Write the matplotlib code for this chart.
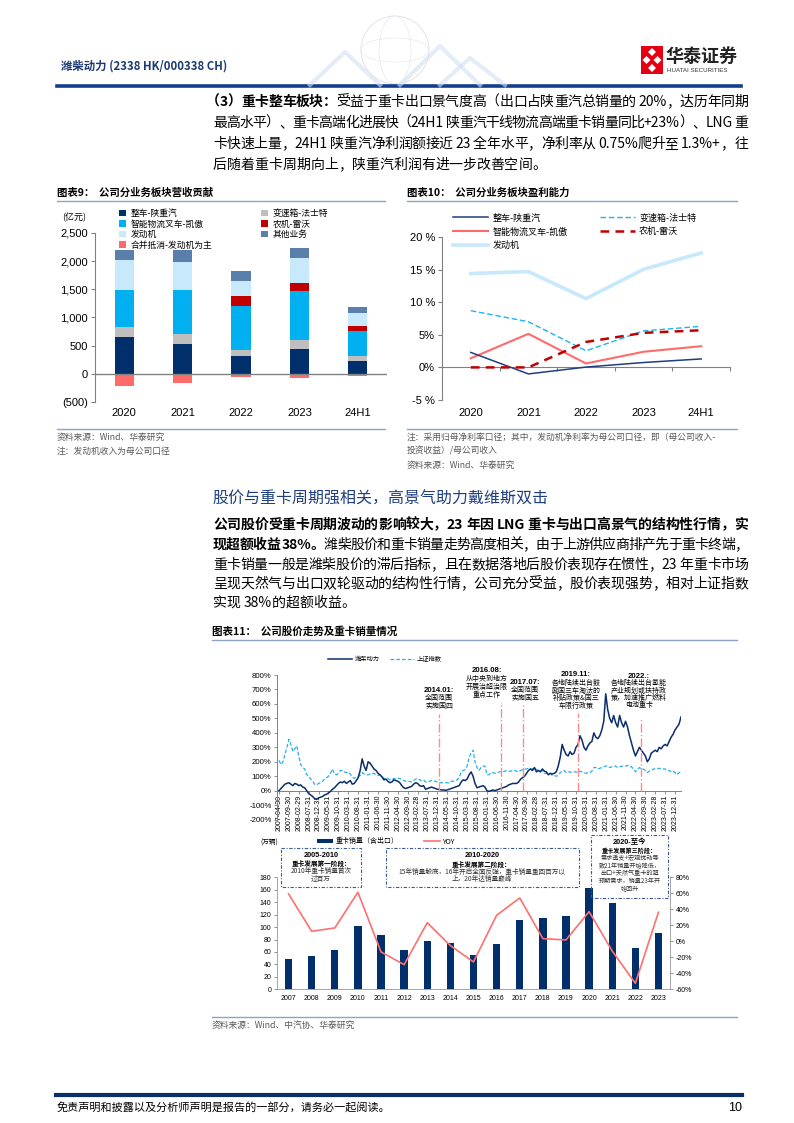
import matplotlib
matplotlib.use('Agg')
import matplotlib.pyplot as plt
from matplotlib.patches import Rectangle, Polygon, Circle, Ellipse
from matplotlib.lines import Line2D
from matplotlib.transforms import Affine2D
import numpy as np
import pandas as pd

W, H = 794, 1123
TXT = ['Noto Sans CJK SC', 'DejaVu Sans']
LAT = ['Liberation Sans', 'Noto Sans CJK SC']
plt.rcParams['font.family'] = TXT
plt.rcParams['axes.unicode_minus'] = False

# ---------------- data ----------------
# 图表9 营收贡献（亿元）
years9 = ['2020', '2021', '2022', '2023', '24H1']
rev_truck = [652, 538, 317, 449, 233]
rev_gearbox = [185, 174, 108, 143, 78]
rev_forklift = [646, 777, 783, 879, 442]
rev_agri = [0, 0, 173, 144, 102]
rev_engine = [544, 502, 264, 442, 221]
rev_other = [173, 209, 173, 168, 108]
rev_elim = [-215, -161, -65, -80, -45]
ticks9 = [-500, 0, 500, 1000, 1500, 2000, 2500]
ticklab9 = ['(500)', '0', '500', '1,000', '1,500', '2,000', '2,500']

# 图表10 净利率（%）
m_truck = [2.3, -1.0, 0.05, 0.75, 1.3]
m_gearbox = [8.7, 7.0, 2.55, 5.6, 6.3]
m_forklift = [1.4, 5.15, 0.6, 2.4, 3.25]
m_agri = [0, 0, 3.9, 5.3, 5.7]
m_engine = [14.4, 14.7, 10.55, 15.05, 17.55]
ticks10 = [-5, 0, 5, 10, 15, 20]
ticklab10 = ['-5 %', '0%', '5%', '10 %', '15 %', '20 %']

# 图表11 上：月度累计涨跌幅（%），2007-04 起
weichai = [
    0, 15, 30, 45, 50, 55, 45, 35, 50,
    45, 35, 40, 25, 20, 0, -20, -30, -40, -55, -60, -50,
    -45, -40, -30, -25, -15, -5, 10, 20, 35, 50, 60, 55,
    65, 50, 60, 70, 45, 50, 70, 90, 140, 220, 170, 140,
    200, 190, 170, 150, 140, 120, 110, 95, 75, 80, 65, 55,
    60, 75, 70, 65, 55, 35, 20, 15, 20, 25, 30, 45,
    55, 50, 35, 30, 35, 10, 15, 20, 25, 20, 15, 10,
    8, 5, 5, 3, 5, 10, 15, 20, 25, 30, 35, 60,
    75, 70, 80, 110, 130, 100, 50, 20, 25, 30, 35, 25,
    0, -5, 0, 5, 0, 5, 10, 15, 20, 25, 30, 40,
    45, 50, 50, 50, 60, 80, 90, 100, 120, 140, 150, 140,
    160, 130, 140, 130, 150, 135, 130, 110, 120, 115, 120, 130,
    170, 230, 320, 280, 250, 240, 270, 250, 260, 300, 320, 380,
    350, 300, 280, 310, 330, 340, 400, 370, 360, 380, 420, 480,
    670, 560, 500, 470, 520, 470, 440, 520, 470, 440, 480, 440,
    380, 330, 280, 240, 270, 300, 280, 260, 240, 200, 220, 260,
    270, 280, 270, 300, 290, 310, 320, 310, 340, 370, 390, 420,
    440, 460, 510,
]
shindex = [
    210, 180, 200, 250, 300, 355, 320, 270, 290,
    310, 240, 180, 160, 150, 110, 100, 80, 65, 45, 40, 50,
    55, 65, 80, 90, 100, 120, 150, 115, 110, 120, 140, 140,
    130, 125, 130, 115, 95, 85, 95, 100, 105, 125, 115, 110,
    110, 115, 120, 120, 110, 105, 110, 100, 85, 85, 85, 75,
    75, 85, 80, 85, 85, 75, 70, 65, 65, 65, 60, 70,
    80, 85, 75, 70, 75, 60, 60, 65, 70, 70, 65, 60,
    55, 55, 55, 55, 55, 55, 65, 65, 70, 75, 90, 130,
    140, 145, 170, 230, 260, 280, 200, 160, 140, 160, 170, 170,
    110, 110, 125, 125, 120, 125, 130, 130, 130, 135, 140, 135,
    135, 140, 140, 135, 130, 140, 145, 150, 150, 155, 150, 150,
    160, 145, 140, 135, 140, 120, 120, 115, 120, 105, 105, 100,
    105, 125, 135, 140, 125, 130, 130, 125, 130, 130, 125, 135,
    130, 125, 120, 125, 125, 135, 160, 160, 150, 155, 160, 165,
    170, 170, 160, 165, 170, 170, 160, 165, 170, 170, 170, 175,
    165, 165, 150, 130, 145, 160, 150, 150, 140, 125, 135, 140,
    150, 150, 150, 155, 150, 150, 150, 140, 140, 130, 135, 125,
    110, 125, 130,
]
start_month = pd.Period('2007-04', freq='M')
events = ['2014-01', '2016-08', '2017-07', '2019-11', '2022-07']
event_top = [530, 610, 590, 540, 500]

# 图表11 下：重卡销量（万辆）与同比
years11 = ['2007', '2008', '2009', '2010', '2011', '2012', '2013', '2014', '2015',
           '2016', '2017', '2018', '2019', '2020', '2021', '2022', '2023']
hdt_sales = [48, 54, 63, 102, 88, 63, 77, 74, 55, 73, 111, 114, 117, 162, 139, 67, 91]
hdt_yoy = [59.2, 12.5, 16.7, 61.3, -13.3, -29.2, 23.3, -5.4, -25.8, 32.5, 54.2, 3.3, 1.7,
           37.1, -12.1, -52.5, 36.3]

# ---------------- helpers ----------------
fig = plt.figure(figsize=(W / 100, H / 100), dpi=100)
R = fig.canvas.get_renderer()
PIX = Affine2D().scale(1 / W, -1 / H).translate(0, 1) + fig.transFigure


def T(x, y, s, **kw):
    kw.setdefault('family', TXT)
    return fig.text(x / W, 1 - y / H, s, **kw)


def axpx(x0, y0, x1, y1):
    return fig.add_axes([x0 / W, 1 - y1 / H, (x1 - x0) / W, (y1 - y0) / H])


def hline(x0, x1, y, color, lw):
    fig.add_artist(Line2D([x0, x1], [y, y], color=color, lw=lw, transform=PIX))


_cache = {}


def twidth(s, size, weight):
    key = (s, size, weight)
    if key not in _cache:
        def w(z):
            t = fig.text(0, 0, z, fontsize=size, fontweight=weight, family=TXT)
            v = t.get_window_extent(renderer=R).width
            t.remove()
            return v
        _cache[key] = w('|' + s + '|') - w('||')
    return _cache[key]


def tokens(s):
    out, buf = [], ''
    for ch in s:
        if ord(ch) < 128 and ch != ' ':
            buf += ch
        else:
            if buf:
                out.append(buf)
                buf = ''
            out.append(ch)
    if buf:
        out.append(buf)
    return out


def para_line(x0, y, segs, size=10, x1=None, color='black'):
    items = []
    for s, wgt in segs:
        for k in tokens(s):
            items.append((k, wgt))
    ws = [twidth(k, size, wgt) for k, wgt in items]
    gap = 0
    if x1 is not None and len(items) > 1:
        gap = (x1 - x0 - sum(ws)) / (len(items) - 1)
    x = x0
    for (k, wgt), w in zip(items, ws):
        if k.strip():
            T(x, y, k, fontsize=size, fontweight=wgt, va='baseline', ha='left', color=color)
        x += w + gap


NAVY = '#0b2d6b'
RULE = '#8da2c4'
GRAY = '#808080'

# ---------------- header ----------------
T(61, 66, '潍柴动力 (2338 HK/000338 CH)', fontsize=8.2, fontweight='bold', color='#1b3a73', va='center')
hline(57, 741, 86, '#123f8c', 2.6)
# watermark globe
fig.add_artist(Circle((395, 50), 34, transform=PIX, fill=False, ec='#e0e4ea', lw=0.7))
fig.add_artist(Ellipse((395, 50), 32, 68, transform=PIX, fill=False, ec='#e4e8ee', lw=0.5))
fig.add_artist(Ellipse((395, 50), 68, 24, transform=PIX, fill=False, ec='#e4e8ee', lw=0.5))
for pts in [[(310, 85), (345, 52), (380, 85)], [(400, 85), (440, 46), (480, 85)],
            [(440, 85), (470, 58), (505, 85)]]:
    fig.add_artist(Line2D([p[0] for p in pts], [p[1] for p in pts], transform=PIX,
                          color='#d3e1f2', lw=3, alpha=0.6))
# logo
fig.add_artist(Rectangle((641, 46), 22, 28, transform=PIX, fc='#e60012', ec='none'))
for cx, cy in [(652, 52), (646.5, 60), (657.5, 60), (652, 68)]:
    fig.add_artist(Polygon([(cx, cy - 4), (cx + 4, cy), (cx, cy + 4), (cx - 4, cy)],
                           transform=PIX, fc='white', ec='none'))
T(666, 56, '华泰证券', fontsize=13, fontweight='bold', color='#222222', va='center')
T(667, 70.5, 'HUATAI SECURITIES', fontsize=4.4, family=LAT, color='#333333', va='center')

# ---------------- paragraph 1 ----------------
PX0, PX1 = 213, 748
para_line(206, 106, [('（3）重卡整车板块：', 'bold'),
                     ('受益于重卡出口景气度高（出口占陕重汽总销量的 20%，达历年同期', 'normal')], x1=PX1)
para_line(PX0, 127, [('最高水平）、重卡高端化进展快（24H1 陕重汽干线物流高端重卡销量同比+23%）、LNG 重', 'normal')], x1=PX1)
para_line(PX0, 148, [('卡快速上量，24H1 陕重汽净利润额接近 23 全年水平，净利率从 0.75%爬升至 1.3%+，往', 'normal')], x1=PX1)
para_line(PX0, 169, [('后随着重卡周期向上，陕重汽利润有进一步改善空间。', 'normal')])

# ---------------- 图表9 ----------------
T(57, 193, '图表9：  公司分业务板块营收贡献', fontsize=7.5, fontweight='bold', va='center')
hline(57, 385, 201, RULE, 1.0)
hline(57, 385, 428.5, RULE, 1.0)
T(57, 437, '资料来源：Wind、华泰研究', fontsize=6.3, color='#595959', va='center')
T(57, 451, '注：发动机收入为母公司口径', fontsize=6.3, color='#595959', va='center')

ax9 = axpx(95, 233, 387, 402)
x9 = np.arange(len(years9))
bw = 0.33
stack = [(rev_truck, '整车-陕重汽', '#002f6c'),
         (rev_gearbox, '变速箱-法士特', '#bfbfbf'),
         (rev_forklift, '智能物流叉车-凯傲', '#00b0f0'),
         (rev_agri, '农机-雷沃', '#c00000'),
         (rev_engine, '发动机', '#c7e9fb'),
         (rev_other, '其他业务', '#5b7fab')]
bottom = np.zeros(len(years9))
hd = {}
for vals, lab, col in stack:
    hd[lab] = ax9.bar(x9, vals, bw, bottom=bottom, color=col, label=lab, zorder=2)
    bottom += np.array(vals)
hd['合并抵消-发动机为主'] = ax9.bar(x9, rev_elim, bw, color='#ff6b6b', label='合并抵消-发动机为主', zorder=2)
ax9.axhline(0, color=GRAY, lw=1.0, zorder=3)
ax9.set_xlim(-0.5, 4.5)
ax9.set_ylim(-500, 2500)
ax9.set_yticks(ticks9)
ax9.set_yticklabels(ticklab9, family=LAT, fontsize=8)
ax9.set_xticks(x9)
ax9.set_xticklabels(years9, family=LAT, fontsize=8)
ax9.tick_params(axis='x', length=0, pad=4)
ax9.tick_params(axis='y', length=3, width=0.8, color=GRAY, pad=2)
for s in ['top', 'right', 'bottom']:
    ax9.spines[s].set_visible(False)
ax9.spines['left'].set_color(GRAY)
ax9.spines['left'].set_linewidth(0.8)
order9 = ['整车-陕重汽', '智能物流叉车-凯傲', '发动机', '合并抵消-发动机为主',
          '变速箱-法士特', '农机-雷沃', '其他业务']
ax9.legend([hd[k] for k in order9], order9, loc='upper left', ncol=2, frameon=False,
           bbox_to_anchor=(119 / W, 1 - 209 / H), bbox_transform=fig.transFigure,
           fontsize=6.3, handlelength=0.8, handleheight=0.8, handletextpad=0.5,
           columnspacing=5.6, labelspacing=0.18, borderpad=0, borderaxespad=0)
T(62, 218, '(亿元)', fontsize=6.5, va='center')

# ---------------- 图表10 ----------------
T(407, 193, '图表10：  公司分业务板块盈利能力', fontsize=7.5, fontweight='bold', va='center')
hline(407, 737, 201, RULE, 1.0)
hline(407, 737, 428.5, RULE, 1.0)
T(407, 437, '注：采用归母净利率口径；其中，发动机净利率为母公司口径，即（母公司收入-', fontsize=6.3, color='#595959', va='center')
T(407, 451, '投资收益）/母公司收入', fontsize=6.3, color='#595959', va='center')
T(407, 465, '资料来源：Wind、华泰研究', fontsize=6.3, color='#595959', va='center')

ax10 = axpx(442, 237, 730, 400)
ax10.spines['bottom'].set_position(('data', 0))
x10 = np.arange(len(years9))
l_eng, = ax10.plot(x10, m_engine, color='#c7e9fb', lw=2.6, label='发动机', zorder=2)
l_trk, = ax10.plot(x10, m_truck, color='#1f3f7f', lw=1.1, label='整车-陕重汽', zorder=4)
l_gb, = ax10.plot(x10, m_gearbox, color='#1eb4f0', lw=1.0, ls=(0, (4, 2)), label='变速箱-法士特', zorder=3)
l_fk, = ax10.plot(x10, m_forklift, color='#ff6b6b', lw=1.5, label='智能物流叉车-凯傲', zorder=3)
l_ag, = ax10.plot(x10, m_agri, color='#c00000', lw=1.8, ls=(0, (3.5, 2.5)), label='农机-雷沃', zorder=5)
ax10.set_xlim(-0.5, 4.5)
ax10.set_ylim(-5, 20)
ax10.set_yticks(ticks10)
ax10.set_yticklabels(ticklab10, family=LAT, fontsize=8)
ax10.set_xticks(x10)
ax10.set_xticklabels(years9, family=LAT, fontsize=8)
ax10.set_xticks(x10 + 0.5, minor=True)
ax10.tick_params(axis='x', which='major', length=0, pad=29)
ax10.tick_params(axis='x', which='minor', length=3, width=0.8, color=GRAY)
ax10.tick_params(axis='y', length=3, width=0.8, color=GRAY, pad=2)
for s in ['top', 'right']:
    ax10.spines[s].set_visible(False)
for s in ['left', 'bottom']:
    ax10.spines[s].set_color(GRAY)
    ax10.spines[s].set_linewidth(0.8)
ax10.legend([l_trk, l_fk, l_eng, l_gb, l_ag],
            ['整车-陕重汽', '智能物流叉车-凯傲', '发动机', '变速箱-法士特', '农机-雷沃'],
            loc='upper left', ncol=2, frameon=False,
            bbox_to_anchor=(453 / W, 1 - 213.5 / H), bbox_transform=fig.transFigure,
            fontsize=6.5, handlelength=3.9, handletextpad=0.45, columnspacing=3.6,
            labelspacing=0.5, borderpad=0, borderaxespad=0)

# ---------------- section heading & paragraph 2 ----------------
T(212, 499, '股价与重卡周期强相关，高景气助力戴维斯双击', fontsize=11.5, color='#1e3f7e', va='center')
para_line(PX0, 529, [('公司股价受重卡周期波动的影响较大，23 年因 LNG 重卡与出口高景气的结构性行情，实', 'bold')], x1=PX1)
para_line(PX0, 549, [('现超额收益 38%。', 'bold'),
                     ('潍柴股价和重卡销量走势高度相关，由于上游供应商排产先于重卡终端，', 'normal')], x1=PX1)
para_line(PX0, 569, [('重卡销量一般是潍柴股价的滞后指标，且在数据落地后股价表现存在惯性，23 年重卡市场', 'normal')], x1=PX1)
para_line(PX0, 588, [('呈现天然气与出口双轮驱动的结构性行情，公司充分受益，股价表现强势，相对上证指数', 'normal')], x1=PX1)
para_line(PX0, 607, [('实现 38%的超额收益。', 'normal')])

# ---------------- 图表11 ----------------
T(212, 632, '图表11：  公司股价走势及重卡销量情况', fontsize=7.6, fontweight='bold', va='center')
hline(212, 737, 640, RULE, 1.0)
hline(212, 737, 1017, RULE, 1.0)
T(212, 1025, '资料来源：Wind、中汽协、华泰研究', fontsize=6.3, color='#595959', va='center')

axS = axpx(277, 675, 681, 819.6)
axS.spines['bottom'].set_position(('data', 0))
xs = np.arange(len(weichai))
lw_, = axS.plot(xs, weichai, color=NAVY, lw=1.1, zorder=3)
ls_, = axS.plot(xs, shindex, color='#28b0ef', lw=0.9, ls=(0, (3, 1.6)), zorder=2)
for ev, top in zip(events, event_top):
    ix = (pd.Period(ev, freq='M') - start_month).n
    axS.vlines(ix, 0, top, color='#ff8a8a', lw=1.0, ls='-.', zorder=4)
axS.set_xlim(-1, 203)
axS.set_ylim(-200, 800)
yt = list(range(-200, 801, 100))
axS.set_yticks(yt)
axS.set_yticklabels([f'{v}%' for v in yt], family=LAT, fontsize=5.6)
tick_ix = list(range(0, 201, 5))
tick_lab = [(start_month + i).end_time.strftime('%Y-%m-%d') for i in tick_ix]
axS.set_xticks(tick_ix)
axS.set_xticklabels(tick_lab, rotation=90, family=LAT, fontsize=5.0)
axS.tick_params(axis='x', length=2, width=0.6, color=GRAY, pad=1)
axS.tick_params(axis='y', length=2.5, width=0.6, color=GRAY, pad=1.5)
for s in ['top', 'right']:
    axS.spines[s].set_visible(False)
for s in ['left', 'bottom']:
    axS.spines[s].set_color(GRAY)
    axS.spines[s].set_linewidth(0.7)
axS.legend([lw_, ls_], ['潍柴动力', '上证指数'], loc='upper left', ncol=2, frameon=False,
           bbox_to_anchor=(328 / W, 1 - 655 / H), bbox_transform=fig.transFigure,
           fontsize=4.5, handlelength=3.8, handletextpad=0.5, columnspacing=1.6,
           borderpad=0, borderaxespad=0)

# annotations (stock chart)
ann = [(439, [690, 698, 706], ['2014.01:', '全国范围', '实施国四']),
       (487, [671, 679, 687, 695], ['2016.08:', '从中央到地方', '开展治超治限', '重点工作']),
       (525, [682, 690, 698], ['2017.07:', '全国范围', '实施国五']),
       (576, [675, 682.5, 690.5, 698, 705.5], ['2019.11:', '各地陆续出台鼓', '励国三车淘汰的', '补贴政策&国三', '车限行政策']),
       (639, [676, 683, 690.5, 698, 705.5], ['2022.:', '各地陆续出台氢能', '产业规划或扶持政', '策，加速推广燃料', '电池重卡'])]
for cx, ys, lines in ann:
    for k, (yy, s) in enumerate(zip(ys, lines)):
        if k == 0:
            T(cx, yy, s, fontsize=5.6, fontweight='bold', family=LAT, ha='center', va='center')
        else:
            T(cx, yy, s, fontsize=5.0, ha='center', va='center')

# bottom: 重卡销量
axB = axpx(277, 877.3, 670, 989.3)
xb = np.arange(len(years11))
bars = axB.bar(xb, hdt_sales, 0.32, color='#002f6c', zorder=2)
axB.set_xlim(-0.5, len(years11) - 0.5)
axB.set_ylim(0, 180)
axB.set_yticks(range(0, 181, 20))
axB.set_yticklabels([str(v) for v in range(0, 181, 20)], family=LAT, fontsize=5.0)
axB.set_xticks(xb)
axB.set_xticklabels(years11, family=LAT, fontsize=5.0)
axB.tick_params(axis='x', length=0, pad=4)
axB.tick_params(axis='y', length=2.5, width=0.6, color=GRAY, pad=1.5)
axB2 = axB.twinx()
ly, = axB2.plot(xb, hdt_yoy, color='#ff6f6f', lw=1.2, zorder=3)
axB2.set_ylim(-60, 80)
yt2 = list(range(-60, 81, 20))
axB2.set_yticks(yt2)
axB2.set_yticklabels([f'{v}%' for v in yt2], family=LAT, fontsize=5.0)
axB2.tick_params(axis='y', length=2.5, width=0.6, color=GRAY, pad=1.5)
for a in (axB, axB2):
    a.spines['top'].set_visible(False)
    for s in ['left', 'right', 'bottom']:
        a.spines[s].set_color('#a6a6a6')
        a.spines[s].set_linewidth(0.7)
axB2.legend([bars, ly], ['重卡销量（含出口）', 'YOY'], loc='upper left', ncol=2, frameon=False,
            bbox_to_anchor=(317 / W, 1 - 837.5 / H), bbox_transform=fig.transFigure,
            fontsize=5.0, handlelength=2.3, handleheight=0.6, handletextpad=0.4,
            columnspacing=3.6, borderpad=0, borderaxespad=0)
T(260, 843, '(万辆)', fontsize=4.8, va='center')

boxes = [((281, 848, 361, 887), 321, [855.5, 863.5, 871.5, 878.5],
          ['2005-2010', '重卡发展第一阶段：', '2010年重卡销量首次', '过百万'], 4.8),
         ((386, 848, 579, 887), 482, [855.5, 864, 871.5, 879],
          ['2010-2020', '重卡发展第二阶段：', '15年销量触底，16年开启全面反弹，重卡销量重回百万以', '上，20年达销量巅峰'], 4.8),
         ((591, 835, 668, 898), 629.5, [842, 850, 858, 866, 873.5, 881, 889],
          ['2020-至今', '重卡发展第三阶段：', '需求透支+宏观扰动导', '致21年销量开始降低，',
           '出口+天然气重卡的超', '预期需求，销量23年开', '始回升'], 4.4)]
for (bx0, by0, bx1, by1), cx, ys, lines, fs in boxes:
    fig.add_artist(Rectangle((bx0, by0), bx1 - bx0, by1 - by0, transform=PIX, fill=False,
                             ec='#3a5a95', lw=0.8, ls=(0, (3, 1.5, 1, 1.5))))
    for k, (yy, s) in enumerate(zip(ys, lines)):
        if k == 0:
            T(cx, yy, s, fontsize=5.3, fontweight='bold', family=LAT, ha='center', va='center')
        elif k == 1:
            T(cx, yy, s, fontsize=fs, fontweight='bold', ha='center', va='center')
        else:
            T(cx, yy, s, fontsize=fs, ha='center', va='center', color='#333333')

# ---------------- footer ----------------
hline(56, 742, 1095, '#0b2d6b', 3.0)
T(57, 1108, '免责声明和披露以及分析师声明是报告的一部分，请务必一起阅读。', fontsize=8, fontstyle='italic', va='center')
T(742, 1108, '10', fontsize=9, family=LAT, ha='right', va='center')

fig.savefig('out.png', dpi=100)
